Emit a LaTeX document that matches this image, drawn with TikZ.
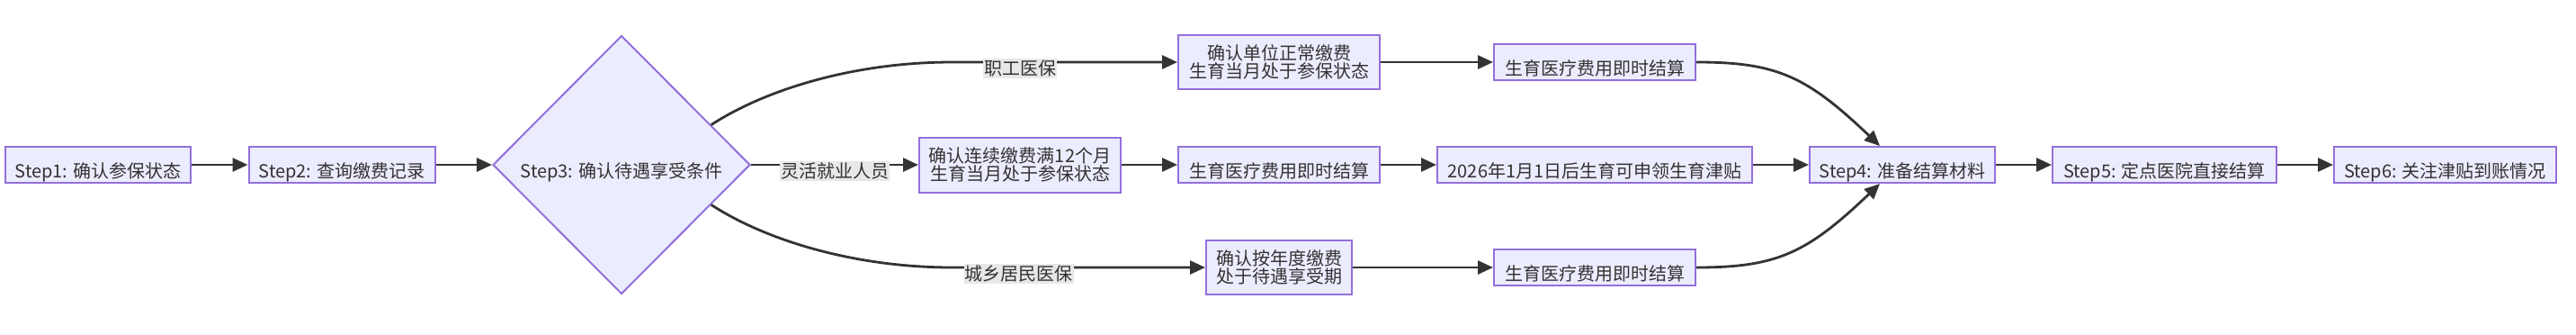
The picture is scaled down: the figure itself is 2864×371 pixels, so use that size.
\documentclass[tikz,border=0pt]{standalone}
\usepackage{fontspec}
\setmainfont{Noto Sans CJK SC}
\usepackage{xcolor}
\usepackage{tikz}
\usetikzlibrary{positioning, arrows.meta, shapes.geometric}
\definecolor{boxfill}{HTML}{ECECFF}
\definecolor{boxline}{HTML}{9370DB}
\definecolor{darkline}{HTML}{333333}
\definecolor{labelgray}{HTML}{E8E8E8}

\tikzset{
  stepbox/.style={draw=boxline, fill=boxfill, line width=1pt, inner sep=0pt,
    minimum height=20pt, text=darkline, font=\fontsize{10}{10}\selectfont,
    text height=14.6pt, text depth=0pt},
  twobox/.style={draw=boxline, fill=boxfill, line width=1pt, inner sep=0pt,
    minimum height=30pt, align=center, text=darkline, font=\fontsize{10}{10}\selectfont},
  gate/.style={diamond, draw=boxline, fill=boxfill, line width=1pt, inner sep=0pt,
    minimum width=143pt, minimum height=143.5pt, text=darkline,
    font=\fontsize{10}{10}\selectfont, text height=14.6pt, text depth=0pt},
  flow/.style={draw=darkline, line width=1.4pt, -{Triangle[length=8.5pt, width=7.5pt]}},
  edgetext/.style={fill=labelgray, text=darkline, inner xsep=0.5pt, inner ysep=1pt,
    yshift=-3.5pt, font=\fontsize{10}{10}\selectfont}
}

\begin{document}
\begin{tikzpicture}[x=0.5pt, y=-0.5pt]
  \useasboundingbox (0,0) rectangle (2864,371);

  \node[stepbox, minimum width=103pt] (s1) at (109,183) {Step1: 确认参保状态};
  \node[stepbox, minimum width=103.5pt] (s2) at (380,183) {Step2: 查询缴费记录};
  \node[gate] (s3) at (691,183) {Step3: 确认待遇享受条件};

  \node[twobox, minimum width=112pt] (emp) at (1422,69) {确认单位正常缴费\\生育当月处于参保状态};
  \node[stepbox, minimum width=112pt] (empPay) at (1773,69) {生育医疗费用即时结算};

  \node[twobox, minimum width=112pt, minimum height=30.5pt] (flex) at (1134,183) {确认连续缴费满12个月\\生育当月处于参保状态};
  \node[stepbox, minimum width=112pt] (flexPay) at (1422,183) {生育医疗费用即时结算};
  \node[stepbox, minimum width=175pt] (flexAid) at (1773,183) {2026年1月1日后生育可申领生育津贴};

  \node[twobox, minimum width=81pt] (res) at (1422,297) {确认按年度缴费\\处于待遇享受期};
  \node[stepbox, minimum width=112pt] (resPay) at (1773,297) {生育医疗费用即时结算};

  \node[stepbox, minimum width=103pt] (s4) at (2115,183) {Step4: 准备结算材料};
  \node[stepbox, minimum width=124.5pt] (s5) at (2406.5,183) {Step5: 定点医院直接结算};
  \node[stepbox, minimum width=123.5pt] (s6) at (2718.5,183) {Step6: 关注津贴到账情况};

  \draw[flow] (s1) -- (s2);
  \draw[flow] (s2) -- (s3);
  \draw[flow] (s3.24) .. controls +(60,-39) and +(-110,0) .. ([xshift=-125pt]emp.west)
    -- node[edgetext, pos=0.3] (l1) {职工医保} (emp);
  \draw[flow] (s3.east) -- node[edgetext] (l2) {灵活就业人员} (flex);
  \draw[flow] (s3.-24) .. controls +(60,39) and +(-110,0) .. ([xshift=-140.5pt]res.west)
    -- node[edgetext, pos=0.263] (l3) {城乡居民医保} (res);

  \draw[flow] (emp) -- (empPay);
  \draw[flow] (flex) -- (flexPay);
  \draw[flow] (flexPay) -- (flexAid);
  \draw[flow] (res) -- (resPay);

  \draw[flow] (empPay.east) .. controls +(90,0) and +(-81,-77) .. ([xshift=-12.5pt]s4.north);
  \draw[flow] (flexAid) -- (s4);
  \draw[flow] (resPay.east) .. controls +(90,0) and +(-81,77) .. ([xshift=-12.5pt]s4.south);
  \draw[flow] (s4) -- (s5);
  \draw[flow] (s5) -- (s6);
\end{tikzpicture}
\end{document}
